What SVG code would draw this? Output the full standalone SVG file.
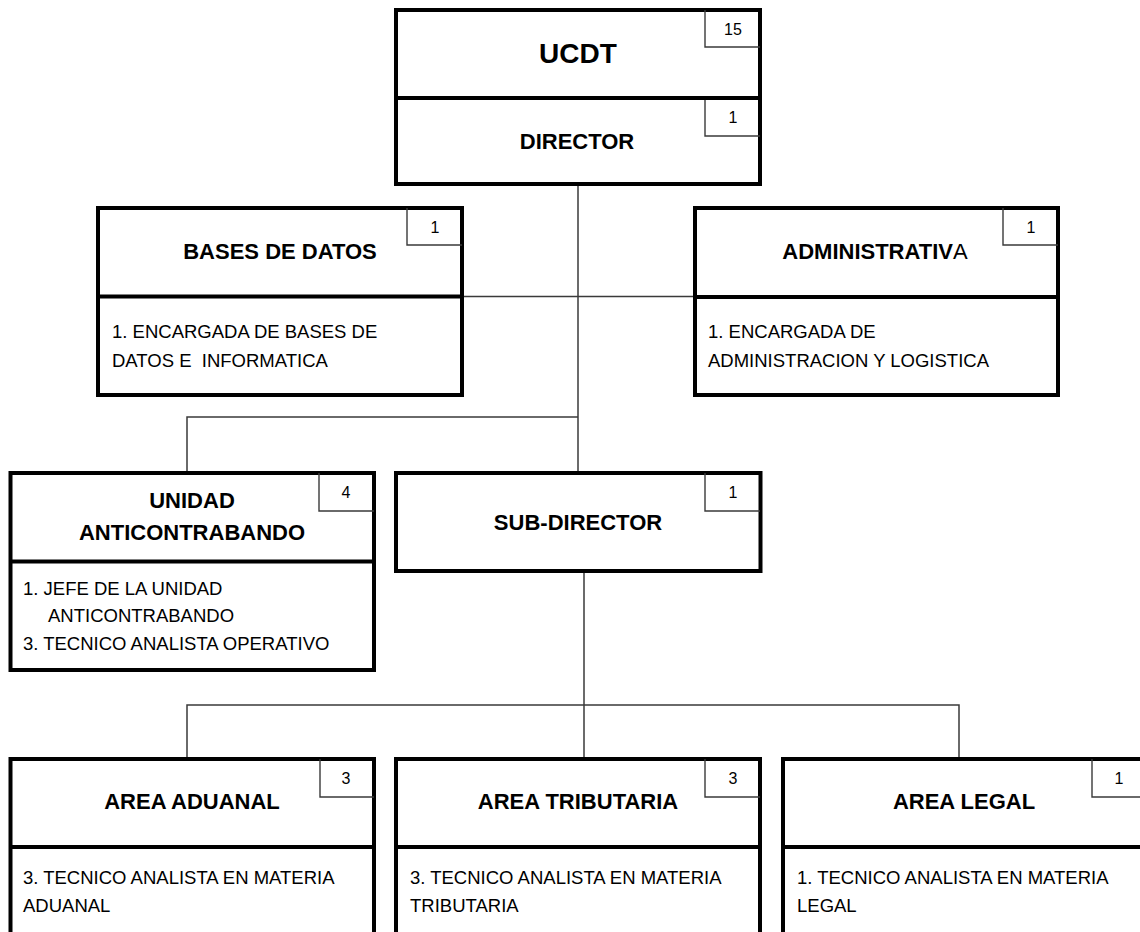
<svg xmlns="http://www.w3.org/2000/svg" width="1140" height="932" viewBox="0 0 1140 932">
  <style>
    .box { fill: #fff; stroke: #000; stroke-width: 4; }
    .div { stroke: #000; stroke-width: 4; }
    .cnt { fill: none; stroke: #3a3a3a; stroke-width: 1.4; }
    .num { font-family: "Liberation Sans", Arial, sans-serif; font-size: 16px; fill: #000; text-anchor: middle; }
    .ttl { font-family: "Liberation Sans", Arial, sans-serif; font-size: 22px; font-weight: bold; fill: #000; text-anchor: middle; }
    .big { font-size: 28px; }
    .txt { font-family: "Liberation Sans", Arial, sans-serif; font-size: 18.5px; fill: #000; }
    .con { fill: none; stroke: #3a3a3a; stroke-width: 1.5; }
  </style>

  <!-- connectors -->
  <g id="connectors" class="con">
    <path d="M578 184 V473"/>
    <path d="M462 296.5 H695"/>
    <path d="M578 417 H187 V473"/>
    <path d="M584 571 V759"/>
    <path d="M187 759 V705 H959 V759"/>
  </g>

  <!-- UCDT / DIRECTOR -->
  <g id="ucdt">
    <rect class="box" x="396" y="10" width="364" height="174"/>
    <path class="cnt" d="M760 47 H705 V10"/>
    <path class="cnt" d="M760 136 H705 V98"/>
    <line class="div" x1="396" y1="98" x2="760" y2="98"/>
    <text class="num" x="733" y="35">15</text>
    <text class="ttl big" x="578" y="63">UCDT</text>
    <text class="num" x="733" y="123">1</text>
    <text class="ttl" x="577" y="149">DIRECTOR</text>
  </g>

  <!-- BASES DE DATOS -->
  <g id="bases-datos">
    <rect class="box" x="98" y="208" width="364" height="187"/>
    <path class="cnt" d="M462 245 H407 V208"/>
    <line class="div" x1="98" y1="296.5" x2="462" y2="296.5"/>
    <text class="num" x="435" y="233">1</text>
    <text class="ttl" x="280" y="259">BASES DE DATOS</text>
    <text class="txt" x="112" y="338">1. ENCARGADA DE BASES DE</text>
    <text class="txt" x="112" y="367" xml:space="preserve">DATOS E  INFORMATICA</text>
  </g>

  <!-- ADMINISTRATIVA -->
  <g id="administrativa">
    <rect class="box" x="695" y="208" width="363" height="187"/>
    <path class="cnt" d="M1058 245 H1003 V208"/>
    <line class="div" x1="695" y1="297" x2="1058" y2="297"/>
    <text class="num" x="1031" y="233">1</text>
    <text class="ttl" x="875" y="259">ADMINISTRATIV<tspan font-weight="normal">A</tspan></text>
    <text class="txt" x="708" y="338">1. ENCARGADA DE</text>
    <text class="txt" x="708" y="367">ADMINISTRACION Y LOGISTICA</text>
  </g>

  <!-- UNIDAD ANTICONTRABANDO -->
  <g id="unidad-anticontrabando">
    <rect class="box" x="10.5" y="473" width="363.5" height="197"/>
    <path class="cnt" d="M374 511 H319 V473"/>
    <line class="div" x1="10.5" y1="561.5" x2="374" y2="561.5"/>
    <text class="num" x="346" y="498">4</text>
    <text class="ttl" x="192" y="508">UNIDAD</text>
    <text class="ttl" x="192" y="540">ANTICONTRABANDO</text>
    <text class="txt" x="23" y="595">1. JEFE DE LA UNIDAD</text>
    <text class="txt" x="48" y="622">ANTICONTRABANDO</text>
    <text class="txt" x="23" y="650">3. TECNICO ANALISTA OPERATIVO</text>
  </g>

  <!-- SUB-DIRECTOR -->
  <g id="sub-director">
    <rect class="box" x="396" y="473" width="364.5" height="98"/>
    <path class="cnt" d="M760 511 H705 V473"/>
    <text class="num" x="733" y="498">1</text>
    <text class="ttl" x="578" y="530">SUB-DIRECTOR</text>
  </g>

  <!-- AREA ADUANAL -->
  <g id="area-aduanal">
    <rect class="box" x="10.5" y="759" width="363.5" height="200"/>
    <path class="cnt" d="M374 797 H320 V759"/>
    <line class="div" x1="10.5" y1="847" x2="374" y2="847"/>
    <text class="num" x="346" y="784">3</text>
    <text class="ttl" x="192" y="809">AREA ADUANAL</text>
    <text class="txt" x="23" y="884">3. TECNICO ANALISTA EN MATERIA</text>
    <text class="txt" x="23" y="912">ADUANAL</text>
  </g>

  <!-- AREA TRIBUTARIA -->
  <g id="area-tributaria">
    <rect class="box" x="396" y="759" width="364" height="200"/>
    <path class="cnt" d="M760 797 H705 V759"/>
    <line class="div" x1="396" y1="847" x2="760" y2="847"/>
    <text class="num" x="733" y="784">3</text>
    <text class="ttl" x="578" y="809">AREA TRIBUTARIA</text>
    <text class="txt" x="410" y="884">3. TECNICO ANALISTA EN MATERIA</text>
    <text class="txt" x="410" y="912">TRIBUTARIA</text>
  </g>

  <!-- AREA LEGAL -->
  <g id="area-legal">
    <rect class="box" x="783" y="759" width="365" height="200"/>
    <path class="cnt" d="M1148 797 H1092 V759"/>
    <line class="div" x1="783" y1="847" x2="1148" y2="847"/>
    <text class="num" x="1119" y="784">1</text>
    <text class="ttl" x="964" y="809">AREA LEGAL</text>
    <text class="txt" x="797" y="884">1. TECNICO ANALISTA EN MATERIA</text>
    <text class="txt" x="797" y="912">LEGAL</text>
  </g>
</svg>
